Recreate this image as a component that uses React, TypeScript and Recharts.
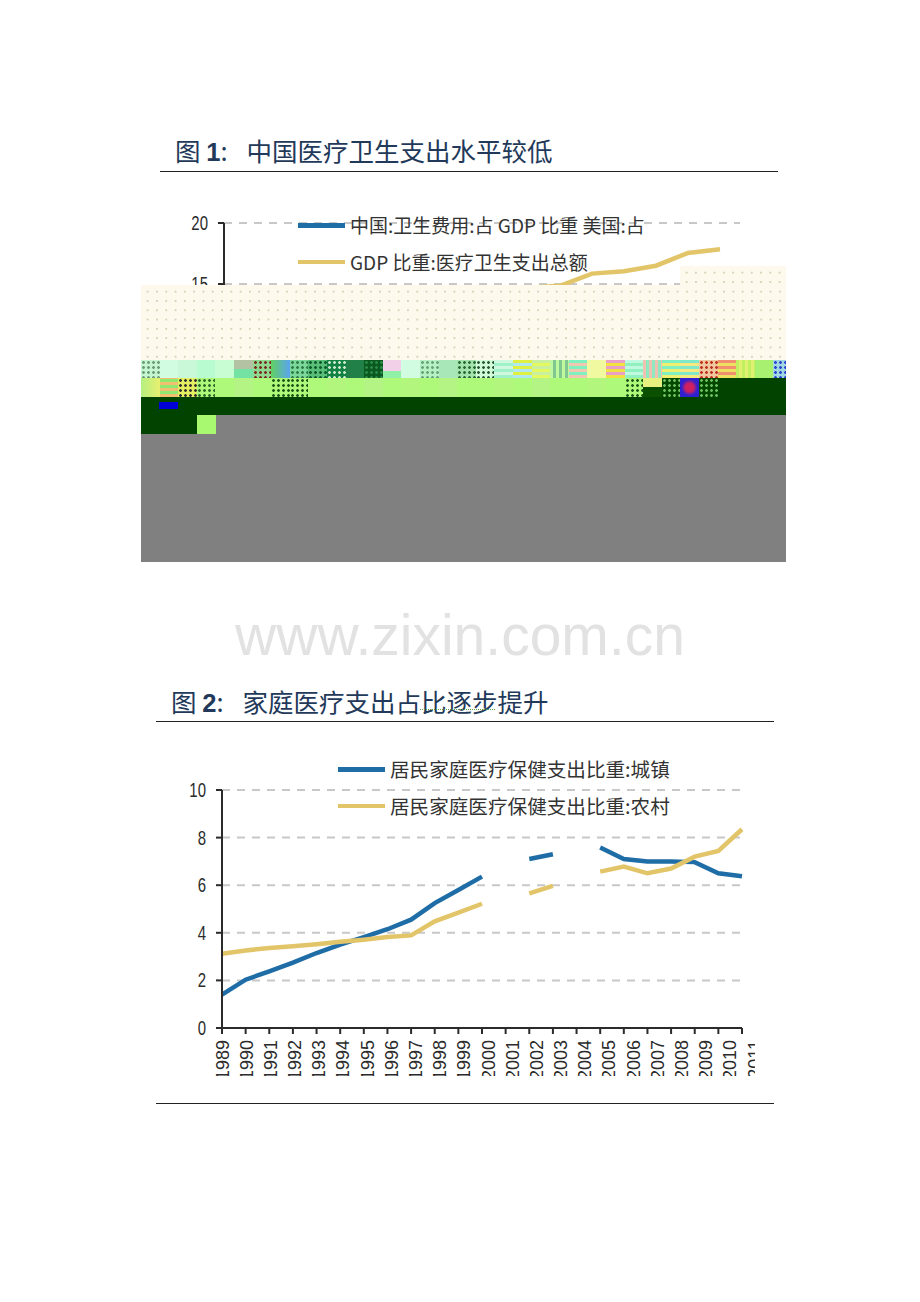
import { CartesianGrid, Legend, Line, LineChart, XAxis, YAxis } from 'recharts';

// figure 1
const years1 = ['1995', '1996', '1997', '1998', '1999', '2000', '2001', '2002', '2003', '2004', '2005', '2006', '2007', '2008', '2009', '2010'];
const china = [3.5, 3.6, 3.8, 4.3, 4.5, 4.6, 4.6, 4.8, 4.9, 4.8, 4.7, 4.6, 4.4, 4.6, 5.1, 5.0];
const usa = [13.4, 13.3, 13.2, 13.2, 13.3, 13.3, 13.9, 14.4, 14.6, 14.7, 14.85, 15.85, 16.05, 16.5, 17.55, 17.85];
const ticks1 = [0, 5, 10, 15, 20];
const legend1 = ['中国:卫生费用:占 GDP 比重 美国:占', 'GDP 比重:医疗卫生支出总额'];

// figure 2, null = no data that year
const years2 = ['1989', '1990', '1991', '1992', '1993', '1994', '1995', '1996', '1997', '1998', '1999', '2000', '2001', '2002', '2003', '2004', '2005', '2006', '2007', '2008', '2009', '2010', '2011'];
const urban = [1.4, 2.03, 2.38, 2.75, 3.15, 3.5, 3.82, 4.15, 4.55, 5.25, 5.8, 6.36, null, 7.1, 7.3, null, 7.58, 7.1, 7.0, 7.0, 6.97, 6.5, 6.38];
const rural = [3.12, 3.26, 3.36, 3.43, 3.52, 3.62, 3.71, 3.82, 3.89, 4.48, 4.85, 5.22, null, 5.66, 5.97, null, 6.57, 6.78, 6.5, 6.7, 7.2, 7.44, 8.35];
const ticks2 = [0, 2, 4, 6, 8, 10];
const legend2 = ['居民家庭医疗保健支出比重:城镇', '居民家庭医疗保健支出比重:农村'];

const data1 = years1.map((year, i) => ({ year, china: china[i], usa: usa[i] }));
const data2 = years2.map((year, i) => ({ year, urban: urban[i], rural: rural[i] }));

const BLUE = '#1f6da6';
const GOLD = '#e3c569';
const INK = '#2b2b2b';
const latin = '"Liberation Sans", sans-serif';
const cjk = '"Noto Sans CJK SC", sans-serif';

// broken image blocks under figure 1
const speck = (c: string) => `radial-gradient(${c} 1.1px, transparent 1.6px) 0 0/5px 5px`;
const hStripes = (a: string, b: string) => `repeating-linear-gradient(0deg, ${a} 0 3px, ${b} 3px 6px)`;
const vStripes = (a: string, b: string) => `repeating-linear-gradient(90deg, ${a} 0 3px, ${b} 3px 6px)`;
const mosaicRow = [
    `${speck('#6f9a78')}, #c4f6cf`, '#d2fce2', '#c8f8d8', '#b8fbd0', '#c8fcd2',
    'linear-gradient(#b4c2a4 50%, #74e2a2 50%)', `${speck('#7a2a20')}, #8fd890`, 'linear-gradient(90deg, #60d060, #5aa4f0)', `${speck('#2f7a48')}, #7ad89a`, `${speck('#0f5a2a')}, #58be78`,
    `${speck('#cfe8d0')}, #128242`, '#208048', `${speck('#2a8a48')}, #0a5a20`, 'linear-gradient(#f2d0e8 60%, #90f0a8 60%)', '#d2fce2',
    `${speck('#6aa07a')}, #b4f2c4`, '#a8e8b8', `${speck('#2a6a3a')}, #a4e4ac`, `${speck('#2a5a3a')}, #d2fcd8`, hStripes('#a0f0c8', '#d0f8e0'),
    hStripes('#b0e8f0', '#e0f040'), hStripes('#e4f860', '#c8f0a0'), vStripes('#c0f8a0', '#80c890'), hStripes('#f0c8b0', '#80f0c0'), '#f0f8a0',
    hStripes('#f0e040', '#e8a0c8'), hStripes('#90f0c0', '#c0f8e0'), vStripes('#f0c0b0', '#90e8c0'), hStripes('#f0f070', '#80f0c0'), hStripes('#f8e880', '#80e8c8'),
    `${speck('#c03020')}, #f0c8a0`, hStripes('#f0e060', '#f09070'), vStripes('#c0f060', '#e0f070'), '#a8f070', `${speck('#3040d0')}, #a0d8e0`,
];
const lowerRow = [
    'linear-gradient(90deg, #b4f080, #e8f070)', hStripes('#f0c070', '#90e870'), `${speck('#333')}, #e4f060`, `${speck('#2f6a2a')}, #aef87a`, '#aef87a',
    '#b4f484', '#aef87a', `${speck('#1f5a1a')}, #aef87a`, `${speck('#1f5a1a')}, #aef87a`, '#aef87a',
    '#b2f67e', '#aef87a', '#b4f484', '#aef87a', '#b2f67e',
    '#aef87a', '#b4f484', '#aef87a', '#aef87a', '#b2f67e',
    '#aef87a', '#b4f484', '#aef87a', '#aef87a', '#b2f67e',
    '#aef87a', `${speck('#1f5a1a')}, #aef87a`, 'linear-gradient(#e8f080 50%, #0a5000 50%)', `${speck('#6ac060')}, #044800`, 'radial-gradient(#d02060 30%, #3020d0 60%)',
    `${speck('#6ac060')}, #044800`, '#034300', '#034300', '#034300', '#034300',
];

function LegendRows({ payload, lines, fontSize }: any) {
    return (
        <div style={{ position: 'relative', fontFamily: cjk, fontSize, color: '#333', lineHeight: '36px' }}>
            {lines.map((line: string, i: number) => (
                <div key={line} style={{ display: 'flex', alignItems: 'center', height: 36.5, whiteSpace: 'nowrap' }}>
                    <span style={{ width: 47, height: 4.5, marginRight: 5, background: payload?.[i]?.color }} />
                    <span>{line}</span>
                </div>
            ))}
        </div>
    );
}

// year labels drift right of their ticks in the scan
function YearTick({ x, y, payload, index }: any) {
    return (
        <text
            x={x}
            y={y}
            dx={-4}
            dy={6.5 + index * 0.55}
            transform={`rotate(-90 ${x} ${y})`}
            textAnchor="end"
            fontSize={18}
            fill={INK}
            fontFamily={latin}
        >
            {payload.value}
        </text>
    );
}

// y labels in the scan are squeezed sideways
function ValueTick({ x, y, payload }: any) {
    return (
        <text
            transform={`translate(${x - 8} ${y}) scale(0.88 1.18)`}
            dy="0.35em"
            textAnchor="end"
            fontSize={17}
            fill={INK}
            fontFamily={latin}
        >
            {payload.value}
        </text>
    );
}

function Title({ top, left, num, text }: any) {
    return (
        <div style={{ position: 'absolute', top, left, color: '#23395a', fontFamily: cjk, fontSize: 25.5, lineHeight: '30px', whiteSpace: 'nowrap' }}>
            图 <b style={{ fontFamily: latin }}>{num}</b>:<span style={{ marginLeft: 19 }}>{text}</span>
        </div>
    );
}

function Rule({ top, left }: any) {
    return <div style={{ position: 'absolute', top, left, width: 618, height: 1, background: '#222' }} />;
}

function Block({ left, top, width, height, background }: any) {
    return <div style={{ position: 'absolute', left, top, width, height, background }} />;
}

export default function App() {
    const cream = `radial-gradient(#d8d2b8 1px, transparent 1.4px) 2px 2px/9.3px 9.3px, #fdf9ec`;
    return (
        <div style={{ position: 'absolute', left: 0, top: 0, width: 920, height: 1302, background: '#fff', overflow: 'hidden' }}>
            <Title top={135} left={175} num="1" text="中国医疗卫生支出水平较低" />
            <Rule top={171} left={160} />

            <div style={{ position: 'absolute', left: 170, top: 193, width: 590, height: 310 }}>
                <LineChart width={590} height={310} data={data1} margin={{ top: 30, right: 20, bottom: 0, left: 0 }}>
                    <CartesianGrid vertical={false} stroke="#c8c8c8" strokeWidth={2} strokeDasharray="8 7" />
                    <XAxis dataKey="year" interval={0} height={36} padding={{ left: 16, right: 20 }} tick={false} stroke={INK} strokeWidth={2} />
                    <YAxis width={54} domain={[0, 20]} ticks={ticks1} tickSize={6} stroke={INK} strokeWidth={2} tick={<ValueTick />} />
                    <Legend
                        layout="horizontal"
                        align="center"
                        verticalAlign="middle"
                        itemSorter={null}
                        wrapperStyle={{ left: 128, top: 14, width: 440 }}
                        content={<LegendRows lines={legend1} fontSize={19} />}
                    />
                    <Line dataKey="china" name="中国:卫生费用:占GDP比重" stroke={BLUE} strokeWidth={4.5} dot={false} isAnimationActive={false} />
                    <Line dataKey="usa" name="美国:占GDP比重:医疗卫生支出总额" stroke={GOLD} strokeWidth={4.5} dot={false} isAnimationActive={false} />
                </LineChart>
            </div>

            {/* the damaged part of the scan sits on top of figure 1 */}
            <Block left={141} top={285} width={645} height={75} background={cream} />
            <Block left={680} top={266} width={106} height={19} background={cream} />
            <div style={{ position: 'absolute', left: 141, top: 360, width: 645, height: 37, overflow: 'hidden' }}>
                {mosaicRow.map((background, k) => (
                    <Block key={k} left={k * 18.6} top={0} width={18.7} height={18} background={background} />
                ))}
                {lowerRow.map((background, k) => (
                    <Block key={k} left={k * 18.6} top={18} width={18.7} height={19} background={background} />
                ))}
            </div>
            <Block left={141} top={397} width={645} height={37} background="#034300" />
            <Block left={159} top={402} width={19} height={7} background="#0000d8" />
            <Block left={197} top={415} width={19} height={19} background="#a8f870" />
            <Block left={216} top={415} width={570} height={19} background="#808080" />
            <Block left={141} top={434} width={645} height={128} background="#808080" />

            <div style={{ position: 'absolute', left: 0, width: 920, top: 600, textAlign: 'center', fontFamily: latin, fontSize: 57, lineHeight: '70px', color: '#e2e2e2' }}>
                www.zixin.com.cn
            </div>

            <Title top={686} left={171} num="2" text="家庭医疗支出占比逐步提升" />
            <div style={{ position: 'absolute', left: 420, top: 709, width: 75, borderBottom: '1px dotted #5aa04a' }} />
            <Rule top={721} left={156} />

            {/* chart box stops where the scan cuts the year labels */}
            <div style={{ position: 'absolute', left: 170, top: 745, width: 585, height: 331, overflow: 'hidden' }}>
                <LineChart width={585} height={331} data={data2} margin={{ top: 45, right: 13, bottom: 0, left: 0 }}>
                    <CartesianGrid vertical={false} stroke="#c8c8c8" strokeWidth={2} strokeDasharray="8 7" />
                    <XAxis dataKey="year" interval={0} height={48} tickSize={6} stroke={INK} strokeWidth={2} tick={<YearTick />} />
                    <YAxis width={52} domain={[0, 10]} ticks={ticks2} tickSize={6} stroke={INK} strokeWidth={2} tick={<ValueTick />} />
                    <Legend
                        layout="horizontal"
                        align="center"
                        verticalAlign="middle"
                        itemSorter={null}
                        wrapperStyle={{ left: 168, top: 6, width: 400 }}
                        content={<LegendRows lines={legend2} fontSize={19.6} />}
                    />
                    <Line dataKey="urban" name="居民家庭医疗保健支出比重:城镇" stroke={BLUE} strokeWidth={4.5} dot={false} isAnimationActive={false} />
                    <Line dataKey="rural" name="居民家庭医疗保健支出比重:农村" stroke={GOLD} strokeWidth={4.5} dot={false} isAnimationActive={false} />
                </LineChart>
            </div>
            <Rule top={1103} left={156} />
        </div>
    );
}
